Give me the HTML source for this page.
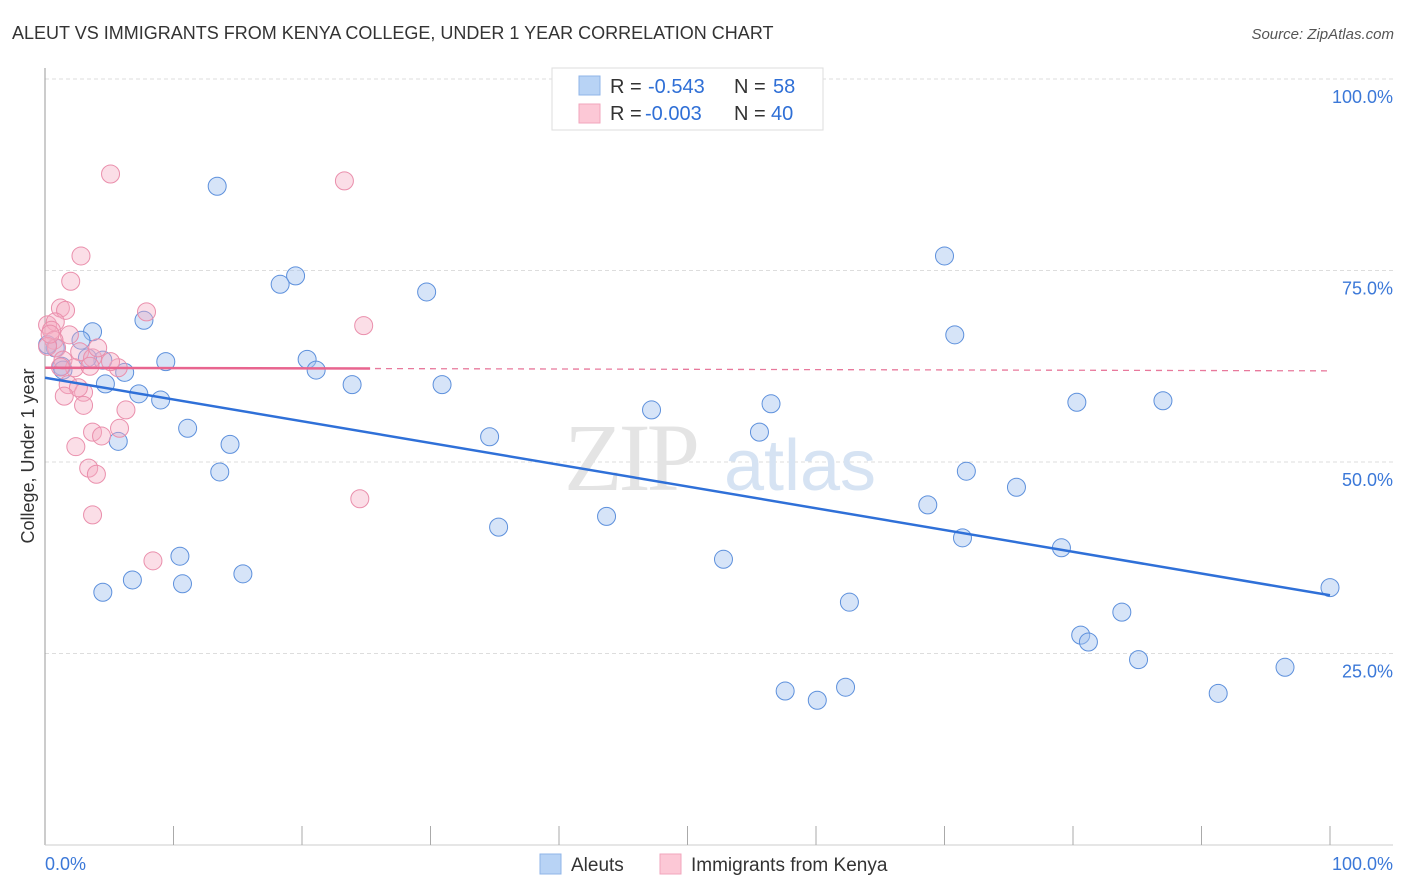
<!DOCTYPE html>
<html><head><meta charset="utf-8"><style>
body{margin:0;background:#fff;font-family:"Liberation Sans",sans-serif;}
svg{display:block}
</style></head><body>
<svg id="chart" width="1406" height="892" xmlns="http://www.w3.org/2000/svg">
<text x="12" y="39" font-size="18" fill="#333">ALEUT VS IMMIGRANTS FROM KENYA COLLEGE, UNDER 1 YEAR CORRELATION CHART</text>
<text x="1394" y="39" font-size="15" fill="#555" font-style="italic" text-anchor="end">Source: ZipAtlas.com</text>
<g id="grid"></g>
<g>
<text x="630" y="490" font-size="96" fill="#e4e4e4" font-family="Liberation Serif,serif" text-anchor="middle" letter-spacing="-4">ZIP</text>
<text x="800" y="490" font-size="72" fill="#d6e3f3" text-anchor="middle">atlas</text>
</g>
<g id="axes"></g>
<g id="pts"></g>
<g id="lines"></g>
<g>
<rect x="552" y="68" width="271" height="62" fill="#fff" stroke="#ddd"/>
<rect x="579" y="76" width="21" height="19" fill="#b8d3f5" stroke="#8fb4e8"/>
<rect x="579" y="104" width="21" height="19" fill="#fcc8d6" stroke="#f2a6bc"/>
<text x="610" y="93" font-size="20" fill="#333">R = <tspan x="648" fill="#2f6fd6">-0.543</tspan><tspan x="734">N = </tspan><tspan x="773" fill="#2f6fd6">58</tspan></text>
<text x="610" y="120" font-size="20" fill="#333">R = <tspan x="645" fill="#2f6fd6">-0.003</tspan><tspan x="734">N = </tspan><tspan x="771" fill="#2f6fd6">40</tspan></text>
</g>
<g>
<rect x="540" y="854" width="21" height="20" fill="#b8d3f5" stroke="#8fb4e8"/>
<text x="571" y="871" font-size="19" fill="#333">Aleuts</text>
<rect x="660" y="854" width="21" height="20" fill="#fcc8d6" stroke="#f2a6bc"/>
<text x="691" y="871" font-size="19" fill="#333">Immigrants from Kenya</text>
</g>
<text transform="translate(34,456) rotate(-90)" font-size="18" fill="#333" text-anchor="middle">College, Under 1 year</text>
</svg>
<script>
const blueX=[13.4,19.5,18.3,29.7,7.7,3.7,2.8,0.8,1.3,4.5,3.3,6.2,9.4,20.4,21.1,23.9,30.9,4.7,7.3,9.0,11.1,14.4,5.7,13.6,34.6,35.3,43.7,47.2,52.8,55.6,56.5,70.0,70.8,71.7,68.7,71.4,75.6,79.1,80.3,87.0,80.6,81.2,83.8,85.1,62.6,57.6,60.1,62.3,91.3,96.5,100.0,10.5,10.7,6.8,4.5,15.4,1.4,0.2];
const blueY=[86.0,74.3,73.2,72.2,68.5,67.0,65.9,64.9,62.5,63.3,63.6,61.7,63.1,63.4,62.0,60.1,60.1,60.2,58.9,58.1,54.4,52.3,52.7,48.7,53.3,41.5,42.9,56.8,37.3,53.9,57.6,76.9,66.6,48.8,44.4,40.1,46.7,38.8,57.8,58.0,27.4,26.5,30.4,24.2,31.7,20.1,18.9,20.6,19.8,23.2,33.6,37.7,34.1,34.6,33.0,35.4,62.0,65.3];
const pinkX=[5.1,23.3,2.8,2.0,1.2,1.6,7.9,24.8,0.2,0.8,0.5,1.9,0.7,0.9,2.7,3.7,4.1,1.4,2.3,5.7,3.5,1.8,3.0,2.6,1.5,6.3,3.0,5.8,3.7,4.4,2.4,3.4,4.0,3.7,24.5,8.4,0.2,1.2,5.1,0.4];
const pinkY=[87.6,86.7,76.9,73.6,70.1,69.8,69.6,67.8,67.9,68.3,67.2,66.6,65.9,64.9,64.4,63.6,64.9,63.3,62.3,62.3,62.5,60.1,59.1,59.7,58.6,56.8,57.4,54.4,53.9,53.4,52.0,49.2,48.4,43.1,45.2,37.1,65.1,62.4,63.1,66.7];
const blueTrend=[61.0,32.6];
const pinkTrend=[62.3,61.9];
const pinkSolidEnd=25.3;
const yTicks=[25,50,75,100];
const yTickLabels=["25.0%","50.0%","75.0%","100.0%"];
const xTicks=[10,20,30,40,50,60,70,80,90,100];

const NS="http://www.w3.org/2000/svg";
const X=v=>45+v*12.85, Y=v=>845-v*7.66;
function mk(t,a,p){const e=document.createElementNS(NS,t);for(const k in a)e.setAttribute(k,a[k]);p.appendChild(e);return e;}
const grid=document.getElementById('grid'),axes=document.getElementById('axes'),pts=document.getElementById('pts'),lines=document.getElementById('lines');
yTicks.forEach((t,i)=>{
 const l=mk('line',{x1:45,x2:1393,y1:Y(t),y2:Y(t),stroke:'#ddd','stroke-dasharray':'4,3'},grid);
 
 
 const tx=mk('text',{x:1393,y:Y(t)+24,'font-size':18,fill:'#3b78d8','text-anchor':'end'},axes);
 tx.textContent=yTickLabels[i];
 
 
});
mk('line',{x1:45,x2:45,y1:68,y2:845,stroke:'#999'},axes);
mk('line',{x1:45,x2:1393,y1:845,y2:845,stroke:'#ccc'},axes);
xTicks.forEach(t=>{
 const l=mk('line',{x1:X(t),x2:X(t),y1:826,y2:845,stroke:'#aaa'},axes);
 
 
});
let a=mk('text',{x:45,y:870,'font-size':18,fill:'#3b78d8'},axes);a.textContent='0.0%';


a=mk('text',{x:1393,y:870,'font-size':18,fill:'#3b78d8','text-anchor':'end'},axes);a.textContent='100.0%';


blueX.forEach((v,i)=>{
 const c=mk('circle',{cx:X(v),cy:Y(blueY[i]),r:9,fill:'rgba(164,196,240,0.45)',stroke:'#5d90dc','stroke-width':1},pts);
 
 
});
pinkX.forEach((v,i)=>{
 const c=mk('circle',{cx:X(v),cy:Y(pinkY[i]),r:9,fill:'rgba(246,172,194,0.4)',stroke:'#ea8fac','stroke-width':1},pts);
 
 
});
const pAt=x=>pinkTrend[0]+(pinkTrend[1]-pinkTrend[0])*x/100;
let l=mk('line',{x1:X(0),y1:Y(pinkTrend[0]),x2:X(100),y2:Y(pinkTrend[1]),stroke:'#e8799c','stroke-width':1.3,'stroke-dasharray':'6,5'},lines);


l=mk('line',{x1:X(0),y1:Y(pinkTrend[0]),x2:X(pinkSolidEnd),y2:Y(pAt(pinkSolidEnd)),stroke:'#e8658f','stroke-width':2.5},lines);


l=mk('line',{x1:X(0),y1:Y(blueTrend[0]),x2:X(100),y2:Y(blueTrend[1]),stroke:'#2f70d8','stroke-width':2.5},lines);


</script>
</body></html>
